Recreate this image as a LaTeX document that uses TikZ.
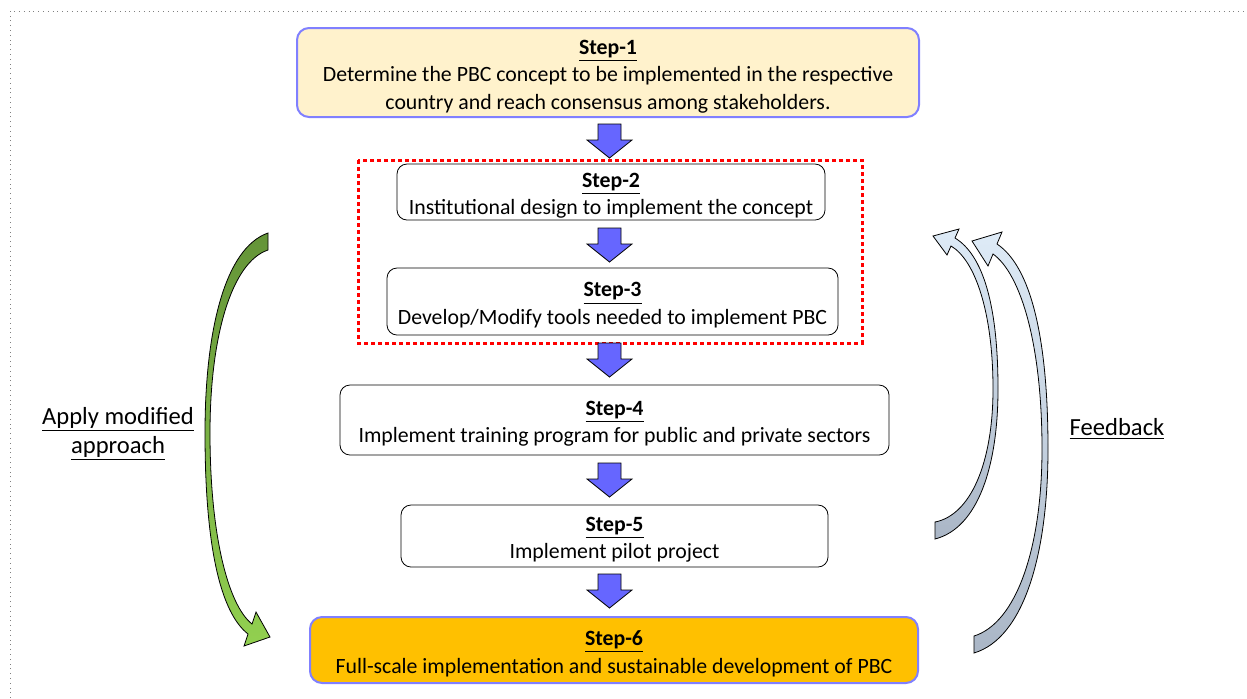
\documentclass[tikz,border=0pt]{standalone}
\usepackage{fontspec}
\setmainfont{Carlito}
\definecolor{stepedge}{RGB}{128,128,255}
\definecolor{stepone}{RGB}{255,242,204}
\definecolor{stepsix}{RGB}{255,192,0}
\definecolor{arrowblue}{RGB}{102,102,255}
\definecolor{greentop}{RGB}{100,148,56}
\definecolor{greenbot}{RGB}{146,208,80}
\definecolor{fbtop}{RGB}{222,235,247}
\definecolor{fbbot}{RGB}{170,182,198}
\newcommand{\steptitle}[1]{\rule{0pt}{11pt}\underline{\textbf{#1}}}
\tikzset{
  stepbox/.style={draw, rounded corners=5pt, align=center, inner sep=0pt,
    font=\fontsize{10.9}{13.8}\selectfont},
  keybox/.style={stepbox, draw=stepedge, line width=1pt, rounded corners=6pt},
  blockarrow/.style={fill=arrowblue, draw=black, line width=0.4pt},
  redframe/.style={draw=red, line width=1.5pt, dash pattern=on 2pt off 1.5pt},
  curvedarrow/.style={draw=black, line width=0.4pt},
  sidelabel/.style={align=center, font=\fontsize{12.3}{14.5}\selectfont}
}
\begin{document}
\begin{tikzpicture}[x=0.5pt,y=-0.5pt]
        \useasboundingbox (0,0) rectangle (1247,698);
        \draw[gray, dotted] (10,698) -- (10,11) -- (1247,11);
        % the six steps
        \node[keybox, fill=stepone, minimum width=311pt, minimum height=44.5pt] (s1) at (608,72.5)
          {\steptitle{Step-1}\\Determine the PBC concept to be implemented in the respective\\country and reach consensus among stakeholders.};
        \node[stepbox, minimum width=214pt, minimum height=28pt] (s2) at (611,192)
          {\steptitle{Step-2}\\Institutional design to implement the concept};
        \node[stepbox, minimum width=225.5pt, minimum height=33.5pt] (s3) at (612.5,301.5)
          {\steptitle{Step-3}\\Develop/Modify tools needed to implement PBC};
        \node[stepbox, minimum width=274.5pt, minimum height=35pt] (s4) at (614.5,420)
          {\steptitle{Step-4}\\Implement training program for public and private sectors};
        \node[stepbox, minimum width=213.5pt, minimum height=31pt] (s5) at (614.5,536)
          {\steptitle{Step-5}\\Implement pilot project};
        \node[keybox, fill=stepsix, minimum width=304pt, minimum height=33pt] (s6) at (614,650)
          {\steptitle{Step-6}\\Full-scale implementation and sustainable development of PBC};
        \draw[redframe] (358,160) rectangle (862,343);
        % block arrows between the steps
        \foreach \t in {124,228,343,463,574}
          \filldraw[blockarrow] (598,\t) -- (621,\t) -- (621,\t+16) -- (632,\t+16) -- (609.5,\t+34)
            -- (587,\t+16) -- (598,\t+16) -- cycle;
        % curved arrows
        \shade[curvedarrow, top color=greentop, bottom color=greenbot]
          (268,233) .. controls (225,248) and (205,330) .. (205,433)
          .. controls (205,545) and (220,612) .. (248,634) -- (244,646) -- (270,637) -- (256,612) -- (252,624)
          .. controls (228,605) and (210,535) .. (210,433)
          .. controls (210,335) and (232,262) .. (268,250) -- cycle;
        \shade[curvedarrow, top color=fbtop, bottom color=fbbot]
          (935,539) .. controls (978,528) and (998,466) .. (998,389)
          .. controls (998,305) and (983,255) .. (955,238) -- (959,229) -- (933,236) -- (947,255) -- (951,246)
          .. controls (975,260) and (993,312) .. (993,389)
          .. controls (993,462) and (971,515) .. (935,522) -- cycle;
        \shade[curvedarrow, top color=fbtop, bottom color=fbbot]
          (974,653) .. controls (1024,638) and (1048,554) .. (1048,449)
          .. controls (1048,335) and (1030,266) .. (997,244) -- (1002,232) -- (972,241) -- (988,266) -- (993,254)
          .. controls (1021,274) and (1042,345) .. (1042,449)
          .. controls (1042,549) and (1016,623) .. (974,636) -- cycle;
        \node[sidelabel] (apply) at (118,434) {\underline{Apply modified}\\\underline{approach}};
        \node[sidelabel] (feedback) at (1117,429) {\underline{Feedback}};
\end{tikzpicture}
\end{document}
